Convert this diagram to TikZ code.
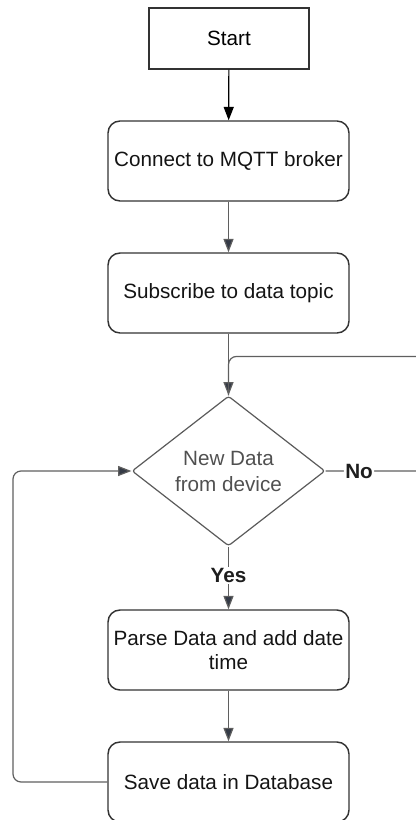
\documentclass[tikz,border=0pt]{standalone}
\usepackage{fontspec}
\setmainfont{Liberation Sans}
\usetikzlibrary{shapes.geometric,arrows.meta,calc}

\tikzset{every picture/.style={line width=0.75pt}}
\tikzset{
  procbox/.style={draw={rgb, 255:red, 51; green, 51; blue, 51 }, line width=1.1pt, rounded corners=9pt, minimum width=180.75pt, minimum height=60pt, inner sep=1pt, align=center, text={rgb, 255:red, 20; green, 20; blue, 20 }, font=\fontsize{15.5}{18}\selectfont},
  startbox/.style={draw={rgb, 255:red, 51; green, 51; blue, 51 }, line width=1pt, minimum width=120pt, minimum height=45.75pt, inner sep=1pt, font=\fontsize{15.5}{18}\selectfont},
  decbox/.style={diamond, draw={rgb, 255:red, 90; green, 90; blue, 90 }, line width=0.9pt, rounded corners=2pt, minimum width=144.75pt, minimum height=108pt, inner sep=0.5pt, align=center, text={rgb, 255:red, 80; green, 80; blue, 80 }, font=\fontsize{15.5}{19.5}\selectfont},
  flow/.style={draw={rgb, 255:red, 95; green, 95; blue, 95 }, line width=0.9pt, -{Triangle[length=10pt,width=7.5pt,fill={rgb, 255:red, 52; green, 58; blue, 70 }]}},
  lbl/.style={fill=white, inner sep=1pt, font=\bfseries\fontsize{15.5}{18}\selectfont, text={rgb, 255:red, 30; green, 30; blue, 30 }}
}

\begin{document}
\begin{tikzpicture}[x=0.75pt,y=0.75pt,yscale=-1,xscale=1]
%set diagram left start at 0, and has height of 820
\useasboundingbox (0,0) rectangle (415,820);

%Shape: Rectangle
\node [startbox] (start) at (229,38.5) {Start};
%Shape: Rounded Rect
\node [procbox] (mqtt) at (228.5,161) {Connect to MQTT broker};
%Shape: Rounded Rect
\node [procbox] (subs) at (228.5,293) {Subscribe to data topic};
%Shape: Diamond
\node [decbox] (newdata) at (228.5,471) {New Data\\from device};
%Shape: Rounded Rect
\node [procbox] (parse) at (228.5,650) {Parse Data and add date\\time};
%Shape: Rounded Rect
\node [procbox] (save) at (228.5,782) {Save data in Database};

%Loop ends
\coordinate (noend) at (445,471) ;
\coordinate (loopleft) at (13,782) ;

%Straight Lines
\draw [flow, draw=black, -{Triangle[length=10pt,width=7.5pt,fill=black]}] (start) -- (mqtt) ;
%Straight Lines
\draw [flow] (mqtt) -- (subs) ;
%Straight Lines
\draw [flow] (subs) -- (newdata) ;
%Straight Lines
\draw [flow] (newdata) -- node [lbl, pos=0.46] {Yes} (parse) ;
%Straight Lines
\draw [flow] (parse) -- (save) ;
%Straight Lines
\draw [flow, -, rounded corners=6pt] (newdata.east) -- node [lbl, pos=0.28] {No} (noend) |- ($(newdata.north)+(0,-39)$) -- (newdata.north) ;
%Straight Lines
\draw [flow, rounded corners=6pt] (save.west) -- (loopleft) |- (newdata.west) ;
\end{tikzpicture}
\end{document}
